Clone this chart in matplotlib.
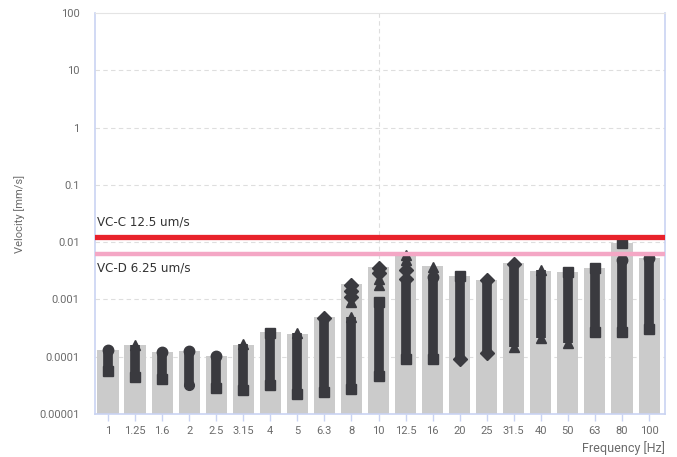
import numpy as np
import matplotlib.pyplot as plt

# 1/3-octave band centre frequencies
freqs = ['1', '1.25', '1.6', '2', '2.5', '3.15', '4', '5', '6.3', '8', '10',
         '12.5', '16', '20', '25', '31.5', '40', '50', '63', '80', '100']

# max velocity per band (grey bars), mm/s
band_max = [1.31e-4, 1.6e-4, 1.21e-4, 1.26e-4, 1.03e-4, 1.6e-4, 2.67e-4,
            2.46e-4, 4.87e-4, 1.83e-3, 3.72e-3, 6.0e-3, 3.87e-3, 2.59e-3,
            2.21e-3, 4.27e-3, 3.17e-3, 3.05e-3, 3.57e-3, 9.77e-3, 5.35e-3]

# spread of the measured samples in each band (lowest / highest)
spread_lo = [5.7e-5, 4.5e-5, 4.1e-5, 3.2e-5, 2.8e-5, 2.6e-5, 3.2e-5, 2.2e-5,
             2.4e-5, 2.7e-5, 4.6e-5, 9.0e-5, 9.0e-5, 9.0e-5, 1.17e-4, 1.46e-4,
             2.1e-4, 1.73e-4, 2.7e-4, 2.7e-4, 3.0e-4]
spread_hi = [1.3e-4, 1.6e-4, 1.2e-4, 1.25e-4, 1.03e-4, 1.65e-4, 2.6e-4,
             2.55e-4, 4.8e-4, 4.9e-4, 9.0e-4, 2.3e-3, 2.5e-3, 2.6e-3, 2.2e-3,
             4.2e-3, 3.3e-3, 3.0e-3, 3.5e-3, 4.9e-3, 5.2e-3]
top_marker = ['o', '^', 'o', 'o', 'o', '^', 's', '^', 'D', '^', 's', 'D',
              'o', 's', 'D', 'D', '^', 's', 's', 'o', 'o']
bottom_marker = ['s', 's', 's', 'o', 's', 's', 's', 's', 's', 's', 's', 's',
                 's', 'D', 'D', '^', '^', '^', 's', 's', 's']

# separate groups of samples sitting above the main spread
extra_band = [9, 9, 9, 9, 10, 10, 10, 10, 11, 11, 11, 11, 12, 19]
extra_vel = [1.8e-3, 1.4e-3, 1.1e-3, 8.9e-4, 3.6e-3, 2.9e-3, 2.3e-3, 1.8e-3,
             5.9e-3, 4.8e-3, 4.0e-3, 3.2e-3, 3.7e-3, 9.6e-3]
extra_marker = ['D', 'D', 'D', '^', 'D', 'D', '^', '^', '^', '^', '^', 'D',
                '^', 's']

# vibration criteria
vc_c = 0.0125
vc_d = 0.00625

dark = '#3a3a3f'
blue = '#c9d3f2'
grey_txt = '#6b6b6b'

fig = plt.figure(figsize=(6.77, 4.57), dpi=100)
ax = fig.add_axes([0.1403, 0.0941, 0.842, 0.8775])
x = np.arange(len(freqs))

ax.set_yscale('log')
ax.set_ylim(1e-5, 100)
ax.set_xlim(-0.48, 20.59)

ax.bar(x, np.array(band_max) - 1e-5, bottom=1e-5, width=0.78,
       color='#cbcbcb', zorder=2)

# sample spread: thick stem with marker at each end
ax.vlines(x, spread_lo, spread_hi, color=dark, lw=7, zorder=3)
for i in x:
    ax.plot(i, spread_hi[i], marker=top_marker[i], ms=7.5, color=dark,
            mec=dark, zorder=4)
    ax.plot(i, spread_lo[i], marker=bottom_marker[i], ms=7, color=dark,
            mec=dark, zorder=4)
for b, v, m in zip(extra_band, extra_vel, extra_marker):
    ax.plot(b, v, marker=m, ms=7.5, color=dark, mec=dark, zorder=4)

ax.axhline(vc_c, color='#e8222b', lw=3.8, zorder=5)
ax.axhline(vc_d, color='#f4a7c5', lw=3.2, zorder=5)
label_font = dict(family='DejaVu Sans', stretch='condensed', fontsize=9.5,
                  color='#333333', zorder=6)
ax.text(0.004, vc_c * 1.55, 'VC-C 12.5 um/s', transform=ax.get_yaxis_transform(),
        va='baseline', **label_font)
ax.text(0.004, vc_d * 0.72, 'VC-D 6.25 um/s', transform=ax.get_yaxis_transform(),
        va='top', **label_font)

# grid: decades on y, one line at 10 Hz
yt = [1e-5, 1e-4, 1e-3, 1e-2, 0.1, 1, 10, 100]
yl = ['0.00001', '0.0001', '0.001', '0.01', '0.1', '1', '10', '100']
ax.set_yticks(yt)
ax.set_yticklabels(yl)
ax.minorticks_off()
for v in yt[1:-1]:
    ax.axhline(v, color='#dedede', lw=0.8, ls=(0, (4, 3)), zorder=1)
ax.axvline(10, color='#dedede', lw=0.8, ls=(0, (4, 3)), zorder=1)

ax.set_xticks(x)
ax.set_xticklabels(freqs)
ax.tick_params(axis='y', length=0, pad=11, labelsize=8, labelcolor=grey_txt)
ax.tick_params(axis='x', length=5, width=1, color=blue, pad=4, labelsize=8,
               labelcolor=grey_txt)
for lab in ax.get_xticklabels() + ax.get_yticklabels():
    lab.set_family('Roboto')

for s in ['left', 'right', 'bottom']:
    ax.spines[s].set_color(blue)
    ax.spines[s].set_linewidth(1.2)
ax.spines['top'].set_color('#e4e4e4')

ax.set_ylabel('Velocity [mm/s]', fontsize=8, color=grey_txt, family='Roboto',
              labelpad=10)
ax.set_xlabel('Frequency [Hz]', fontsize=9, color=grey_txt, family='Roboto',
              loc='right', labelpad=3)

fig.savefig('out.png', dpi=100)
